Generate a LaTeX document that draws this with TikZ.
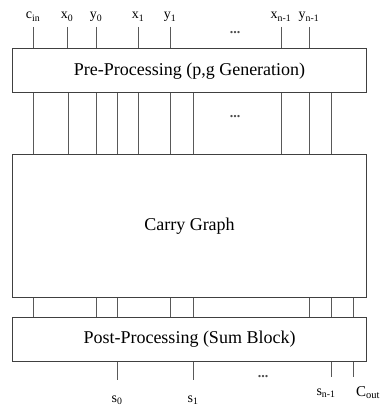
\documentclass[tikz,border=0pt]{standalone}
\usepackage{fontspec}
\setmainfont{Liberation Serif}
\begin{document}
\begin{tikzpicture}[x=1pt,y=-1pt,
  blk/.style={draw=black!75,line width=1pt,inner sep=0pt,anchor=north west,font=\fontsize{18}{20}\selectfont},
  wire/.style={draw=black!65,line width=1pt},
  lbl/.style={inner sep=0pt,font=\fontsize{14}{16}\selectfont},
  dots/.style={inner sep=0pt,text=black!70,font=\fontsize{14}{16}\selectfont\bfseries}]
\useasboundingbox (0,0) rectangle (384,419);
\node[blk,minimum width=354pt,minimum height=44pt] (pre) at (12,48.5) {Pre-Processing (p,g Generation)};
\node[blk,minimum width=354pt,minimum height=143pt] (carry) at (12,154) {Carry Graph};
\node[blk,minimum width=354pt,minimum height=44pt] (post) at (12,317) {Post-Processing (Sum Block)};
% top inputs
\foreach \x/\t/\n in {33/c\textsubscript{in}/a,67/x\textsubscript{0}/b,96/y\textsubscript{0}/c,138/x\textsubscript{1}/d,170/y\textsubscript{1}/e,281/x\textsubscript{n-1}/f,309/y\textsubscript{n-1}/g}{
  \node[lbl,anchor=base] (in\n) at (\x,19) {\t};
  \coordinate (tin\n) at (\x,27);
  \draw[wire] (tin\n) -- (tin\n |- pre.north);
}
\node[dots,anchor=base] (d1) at (235,34) {...};
% middle wires
\foreach \x in {33,68,96,117,138,170,193,281,309,331}{
  \draw[wire] (\x,0 |- pre.south) -- (\x,0 |- carry.north);
}
\node[dots,anchor=base] (d2) at (235,118) {...};
% lower wires
\foreach \x in {33,96,117,170,193,309,331,353}{
  \draw[wire] (\x,0 |- carry.south) -- (\x,0 |- post.north);
}
% outputs
\coordinate (o0) at (117,380);
\coordinate (o1) at (193,380);
\coordinate (o2) at (331,377);
\coordinate (o3) at (353,377);
\foreach \n in {0,1,2,3}{ \draw[wire] (o\n |- post.south) -- (o\n); }
\node[lbl,anchor=base] (s0) at (117,402) {s\textsubscript{0}};
\node[lbl,anchor=base] (s1) at (193,402) {s\textsubscript{1}};
\node[lbl,anchor=base] (sn) at (326,395) {s\textsubscript{n-1}};
\node[lbl,anchor=base,font=\fontsize{15}{17}\selectfont] (cout) at (368,396) {C\textsubscript{out}};
\node[dots,anchor=base] (d3) at (263,377) {...};
\end{tikzpicture}
\end{document}
